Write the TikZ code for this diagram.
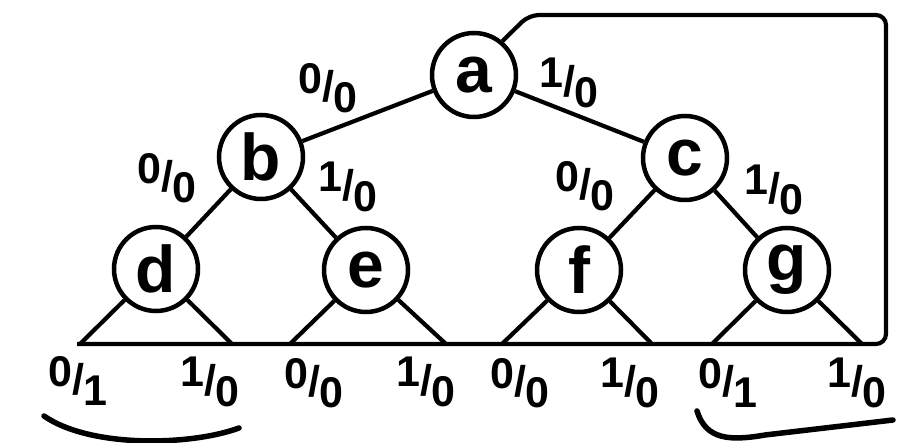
\documentclass[tikz,border=0pt]{standalone}
\usepackage{fontspec}
\setmainfont{Liberation Sans}
\newcommand{\fr}[2]{\raisebox{0.2em}{#1}/\raisebox{-0.25em}{#2}}
\tikzset{
  st/.style={circle, draw, line width=4.5pt, minimum size=84pt, inner sep=0pt,
    font=\fontsize{66}{72}\selectfont\bfseries},
  ln/.style={line width=4.2pt},
  lab/.style={font=\fontsize{43}{48}\selectfont\bfseries, inner sep=0pt},
  brace/.style={line width=5.5pt, line cap=round}
}
\begin{document}
\begin{tikzpicture}[x=1pt,y=-1pt]
\useasboundingbox (0,0) rectangle (919,443);
\node[st] (a) at (474,75) {a};
\node[st] (b) at (261,157) {b};
\node[st] (c) at (685,158) {c};
\node[st] (d) at (156,269) {d};
\node[st] (e) at (366,270) {e};
\node[st] (f) at (579,270) {f};
\node[st] (g) at (787,270) {g};
% base line points
\coordinate (dl) at (80,344);  \coordinate (dr) at (232,344);
\coordinate (el) at (290,344); \coordinate (er) at (446,344);
\coordinate (fl) at (502,344); \coordinate (fr) at (652,344);
\coordinate (gl) at (712,344); \coordinate (gr) at (862,344);
\coordinate (base0) at (77,344);
\coordinate (bx1) at (529,15);
\coordinate (bx2) at (886,15);
\coordinate (bx3) at (886,344);
% tree edges
\draw[ln] (a) -- (b);
\draw[ln] (a) -- (c);
\draw[ln] (b) -- (d);
\draw[ln] (b) -- (e);
\draw[ln] (c) -- (f);
\draw[ln] (c) -- (g);
\foreach \n in {d,e,f,g} {
  \draw[ln] (\n) -- (\n l);
  \draw[ln] (\n) -- (\n r);
}
% box and base line
\draw[ln, rounded corners=10pt] (a.50) -- (bx1) -- (bx2) -- (bx3) -- (base0);
% labels
\node[lab] (lab) at (328,88) {\fr{0}{0}};
\node[lab] (lac) at (569,83) {\fr{1}{0}};
\node[lab] (lbd) at (167,178) {\fr{0}{0}};
\node[lab] (lbe) at (348,187) {\fr{1}{0}};
\node[lab] (lcf) at (585,186) {\fr{0}{0}};
\node[lab] (lcg) at (774,190) {\fr{1}{0}};
\node[lab] (l1) at (78,381) {\fr{0}{1}};
\node[lab] (l2) at (210,382) {\fr{1}{0}};
\node[lab] (l3) at (314,383) {\fr{0}{0}};
\node[lab] (l4) at (426,382) {\fr{1}{0}};
\node[lab] (l5) at (520,383) {\fr{0}{0}};
\node[lab] (l6) at (630,383) {\fr{1}{0}};
\node[lab] (l7) at (728,383) {\fr{0}{1}};
\node[lab] (l8) at (857,383) {\fr{1}{0}};
% braces
\draw[brace] (44,416) .. controls (90,448) and (190,446) .. (239,428);
\draw[brace] (697,411) .. controls (706,440) and (730,441) .. (765,435) -- (893,420);
\end{tikzpicture}
\end{document}
